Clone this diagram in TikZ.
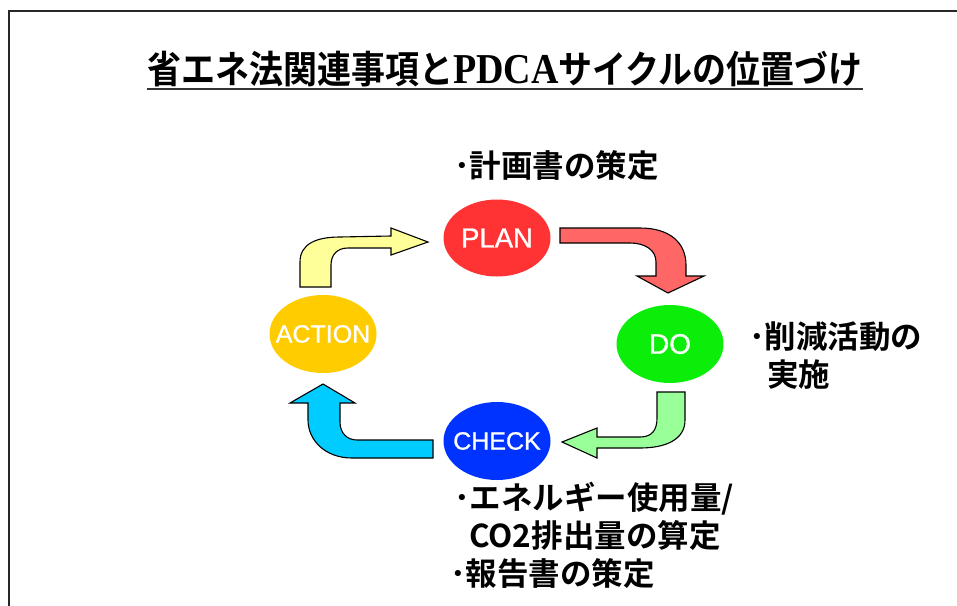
\documentclass[tikz,border=0pt]{standalone}
\usepackage{fontspec}
\usepackage{graphicx}
\usetikzlibrary{shapes.geometric}
\setmainfont{Liberation Sans}
\newfontfamily\jpb{Noto Sans CJK JP Bold}
\newfontfamily\serifb{Liberation Serif Bold}
\newfontfamily\phasefont{Liberation Sans}[FakeBold=1]
\definecolor{planred}{RGB}{255,51,51}
\definecolor{dogreen}{RGB}{10,238,10}
\definecolor{checkblue}{RGB}{0,51,255}
\definecolor{actionyellow}{RGB}{255,204,0}
\definecolor{arryellow}{RGB}{255,255,153}
\definecolor{arrred}{RGB}{255,102,102}
\definecolor{arrgreen}{RGB}{153,255,153}
\definecolor{arrblue}{RGB}{0,204,255}
\newcommand{\phasetext}[1]{\makebox[0pt]{#1}}
\begin{document}
\begin{tikzpicture}[x=1pt,y=-1pt,
  phase/.style={ellipse, inner sep=0pt, minimum width=107pt, minimum height=77pt,
    text=white, font=\phasefont\fontsize{25}{25}\selectfont},
  blockarrow/.style={draw=black, line width=1.1pt, line join=miter},
  notetext/.style={inner sep=0pt, anchor=base west, font=\jpb\fontsize{31.5}{31.5}\selectfont}]
\useasboundingbox (0,0) rectangle (957,605);
\fill[white] (0,0) rectangle (957,605);
% frame
\draw[line width=2pt, black!85] (9,620) -- (9,11) -- (970,11);
% title
\node[inner sep=0pt, anchor=base] (title) at (505,83)
  {\scalebox{1}[1.12]{\jpb\fontsize{34}{34}\selectfont 省エネ法関連事項と{\serifb\fontsize{38}{38}\selectfont PDCA}サイクルの位置づけ}};
\draw[line width=2pt, black!80] ([yshift=-6pt]title.base west) -- ([yshift=-6pt]title.base east);
% phases
\node[phase, fill=planred, font=\phasefont\fontsize{27.5}{27.5}\selectfont] (plan) at (497,238) {\phasetext{PLAN}};
\node[phase, fill=dogreen, minimum height=78pt, font=\phasefont\fontsize{28}{28}\selectfont] (do) at (670,344) {\phasetext{DO}};
\node[phase, fill=checkblue, minimum height=78pt] (check) at (497,441) {\phasetext{CHECK}};
\node[phase, fill=actionyellow, minimum height=78pt] (action) at (323,334) {\phasetext{ACTION}};
% arrows
\draw[blockarrow, fill=arryellow] (300,287) -- (300,262) .. controls (300,244) and (316,237) .. (340,237)
  -- (391,236) -- (391,228) -- (428,242) -- (391,255) -- (391,248) -- (348,248)
  .. controls (337,248) and (331,255) .. (331,265) -- (331,287) -- cycle;
\draw[blockarrow, fill=arrred] (560,228) -- (640,228) .. controls (670,228) and (686,243) .. (686,265)
  -- (686,276) -- (704,276) -- (668,293) -- (637,276) -- (656,276) -- (656,262)
  .. controls (656,250) and (645,243) .. (630,243) -- (560,243) -- cycle;
\draw[blockarrow, fill=arrgreen] (657,392) -- (685,392) -- (685,420) .. controls (685,440) and (665,448) .. (640,448)
  -- (597,448) -- (597,458) -- (562,442) -- (597,428) -- (597,437) -- (640,437)
  .. controls (652,437) and (657,430) .. (657,418) -- cycle;
\draw[blockarrow, fill=arrblue] (433,440) -- (433,458) -- (352,458) .. controls (325,458) and (308,440) .. (308,420)
  -- (308,403) -- (290,403) -- (323,384) -- (355,403) -- (340,403) -- (340,422)
  .. controls (340,433) and (347,440) .. (357,440) -- cycle;
% notes
\node[notetext] (plannote) at (454,177) {･計画書の策定};
\node[notetext] (donote1) at (749,348) {･削減活動の};
\node[notetext] (donote2) at (767,386) {実施};
\node[notetext] (checknote1) at (454,509) {･エネルギー使用量/};
\node[notetext] (checknote2) at (469,547) {CO2排出量の算定};
\node[notetext] (checknote3) at (450,585) {･報告書の策定};
\end{tikzpicture}
\end{document}
